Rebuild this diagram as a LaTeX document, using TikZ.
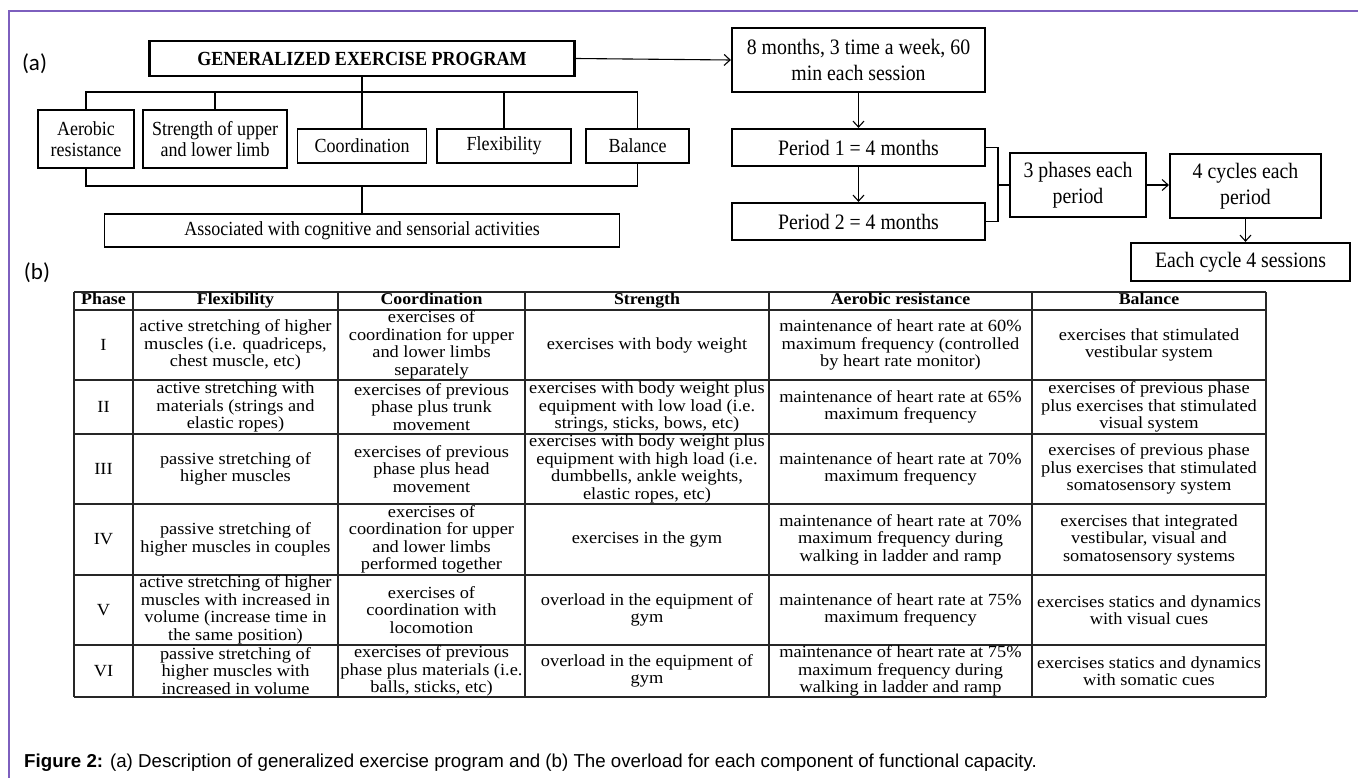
\documentclass[tikz,border=0pt]{standalone}
\usepackage{fontspec}
\setmainfont{Liberation Serif}
\newfontfamily\condfont[FakeStretch=0.9]{Liberation Serif}
\newfontfamily\tabfont[FakeStretch=1.08]{Liberation Serif}
\newfontfamily\capfont{Liberation Sans}
\newfontfamily\labfont{Carlito}
\usetikzlibrary{arrows.meta}
\definecolor{framepurple}{RGB}{125,95,190}
\begin{document}
\begin{tikzpicture}[x=1pt,y=-1pt,
  box/.style={draw,line width=1.2pt,align=center,inner sep=0pt,font=\condfont\fontsize{20}{21}\selectfont},
  tbox/.style={box,line width=2.2pt,font=\condfont\fontsize{22}{26}\selectfont},
  conn/.style={line width=1.1pt},
  arr/.style={conn,-{Straight Barb[length=6pt,width=11pt]}},
  cell/.style={align=center,inner sep=0pt,font=\tabfont\fontsize{17}{17.5}\selectfont},
  head/.style={align=center,inner sep=0pt,text height=12pt,text depth=4pt,font=\tabfont\bfseries\fontsize{16.5}{17.5}\selectfont},
  hrule/.style={line width=2.2pt,black!85},
  vrule/.style={line width=1.4pt,black!85},
  lab/.style={font=\labfont\fontsize{23}{25}\selectfont,inner sep=0pt},
]
\useasboundingbox (0,0) rectangle (1358,778);
% frame
\draw[framepurple,line width=1.6pt] (9,778) -- (9,11) -- (1358,11);

% labels
\node[lab] (la) at (34.5,64) {(a)};
\node[lab] (lb) at (37,273) {(b)};

% (a) left part
\node[box,line width=2.2pt,minimum width=425pt,minimum height=35pt,font=\condfont\bfseries\fontsize{20}{21}\selectfont] (gep) at (362,58.5) {GENERALIZED EXERCISE PROGRAM};
\node[box,minimum width=96pt,minimum height=58pt] (aer) at (86,139) {Aerobic\\resistance};
\node[box,minimum width=144pt,minimum height=58pt] (str) at (215,139) {Strength of upper\\and lower limb};
\node[box,minimum width=129pt,minimum height=34pt] (coo) at (362,146) {Coordination};
\node[box,minimum width=134pt,minimum height=34pt] (fle) at (504,146) {Flexibility};
\node[box,minimum width=103pt,minimum height=34pt] (bal) at (637.5,146) {Balance};
\node[box,minimum width=515pt,minimum height=33pt] (ass) at (362,230.5) {Associated with cognitive and sensorial activities};

\coordinate (tbL) at (86,92);
\coordinate (tbR) at (637.5,92);
\draw[conn] (aer.north) -- (tbL) -- (tbR) -- (bal.north);
\draw[conn] (str.north) -- (str.north |- tbL);
\draw[conn] (fle.north) -- (fle.north |- tbL);
\draw[conn] (gep.south) -- (coo.north);
\coordinate (bbL) at (86,186);
\coordinate (bbR) at (637.5,186);
\draw[conn] (aer.south) -- (bbL) -- (bbR) -- (bal.south);
\draw[conn] (ass.north) -- (ass.north |- bbL);

% (a) right part
\node[tbox,minimum width=253pt,minimum height=64pt] (m8) at (858.5,60) {8 months, 3 time a week, 60\\min each session};
\node[tbox,minimum width=253pt,minimum height=37pt] (p1) at (858.5,147.5) {Period 1 = 4 months};
\node[tbox,minimum width=253pt,minimum height=37pt] (p2) at (858.5,221.5) {Period 2 = 4 months};
\node[tbox,minimum width=136pt,minimum height=64pt] (ph) at (1078,185) {3 phases each\\period};
\node[tbox,minimum width=151pt,minimum height=64pt] (cy) at (1245.5,186) {4 cycles each\\period};
\node[tbox,minimum width=219pt,minimum height=38pt] (ec) at (1240.5,262) {Each cycle 4 sessions};

\draw[arr] (gep.east) -- (m8.west);
\draw[arr] (m8.south) -- (p1.north);
\draw[arr] (p1.south) -- (p2.north);
\coordinate (brT) at (998,147.5);
\coordinate (brB) at (998,221.5);
\draw[conn] (p1.east) -- (brT) -- (brB) -- (p2.east);
\draw[conn] (ph.west) -- (ph.west -| brT);
\draw[arr] (ph.east) -- (ph.east -| cy.west);
\draw[arr] (cy.south) -- (cy.south |- ec.north);

% (b) table grid
\foreach \y in {292,310,380,434,504,575,645,697} \draw[hrule] (74,\y) -- (1266,\y);
\foreach \x in {74,133,338,525,769,1032,1266} \draw[vrule] (\x,292) -- (\x,697);

% header
\node[head] (h1) at (103.5,301) {Phase};
\node[head] (h2) at (235.5,301) {Flexibility};
\node[head] (h3) at (431.5,301) {Coordination};
\node[head] (h4) at (647,301) {Strength};
\node[head] (h5) at (900.5,301) {Aerobic resistance};
\node[head] (h6) at (1149,301) {Balance};

% row I
\node[cell] (a1) at (103.5,345) {I};
\node[cell] (a2) at (235.5,345) {active stretching of higher\\muscles (i.e. quadriceps,\\chest muscle, etc)};
\node[cell] (a3) at (431.5,345) {exercises of\\coordination for upper\\and lower limbs\\separately};
\node[cell] (a4) at (647,345) {exercises with body weight};
\node[cell] (a5) at (900.5,345) {maintenance of heart rate at 60\%\\maximum frequency (controlled\\by heart rate monitor)};
\node[cell] (a6) at (1149,345) {exercises that stimulated\\vestibular system};

% row II
\node[cell] (b1) at (103.5,407) {II};
\node[cell] (b2) at (235.5,407) {active stretching with\\materials (strings and\\elastic ropes)};
\node[cell] (b3) at (431.5,407) {exercises of previous\\phase plus trunk\\movement};
\node[cell] (b4) at (647,407) {exercises with body weight plus\\equipment with low load (i.e.\\strings, sticks, bows, etc)};
\node[cell] (b5) at (900.5,407) {maintenance of heart rate at 65\%\\maximum frequency};
\node[cell] (b6) at (1149,407) {exercises of previous phase\\plus exercises that stimulated\\visual system};

% row III
\node[cell] (c1) at (103.5,469) {III};
\node[cell] (c2) at (235.5,469) {passive stretching of\\higher muscles};
\node[cell] (c3) at (431.5,469) {exercises of previous\\phase plus head\\movement};
\node[cell] (c4) at (647,469) {exercises with body weight plus\\equipment with high load (i.e.\\dumbbells, ankle weights,\\elastic ropes, etc)};
\node[cell] (c5) at (900.5,469) {maintenance of heart rate at 70\%\\maximum frequency};
\node[cell] (c6) at (1149,469) {exercises of previous phase\\plus exercises that stimulated\\somatosensory system};

% row IV
\node[cell] (d1) at (103.5,539.5) {IV};
\node[cell] (d2) at (235.5,539.5) {passive stretching of\\higher muscles in couples};
\node[cell] (d3) at (431.5,539.5) {exercises of\\coordination for upper\\and lower limbs\\performed together};
\node[cell] (d4) at (647,539.5) {exercises in the gym};
\node[cell] (d5) at (900.5,539.5) {maintenance of heart rate at 70\%\\maximum frequency during\\walking in ladder and ramp};
\node[cell] (d6) at (1149,539.5) {exercises that integrated\\vestibular, visual and\\somatosensory systems};

% row V
\node[cell] (e1) at (103.5,610) {V};
\node[cell] (e2) at (235.5,610) {active stretching of higher\\muscles with increased in\\volume (increase time in\\the same position)};
\node[cell] (e3) at (431.5,610) {exercises of\\coordination with\\locomotion};
\node[cell] (e4) at (647,610) {overload in the equipment of\\gym};
\node[cell] (e5) at (900.5,610) {maintenance of heart rate at 75\%\\maximum frequency};
\node[cell] (e6) at (1149,610) {exercises statics and dynamics\\with visual cues};

% row VI
\node[cell] (f1) at (103.5,671) {VI};
\node[cell] (f2) at (235.5,671) {passive stretching of\\higher muscles with\\increased in volume};
\node[cell] (f3) at (431.5,671) {exercises of previous\\phase plus materials (i.e.\\balls, sticks, etc)};
\node[cell] (f4) at (647,671) {overload in the equipment of\\gym};
\node[cell] (f5) at (900.5,671) {maintenance of heart rate at 75\%\\maximum frequency during\\walking in ladder and ramp};
\node[cell] (f6) at (1149,671) {exercises statics and dynamics\\with somatic cues};

% caption
\node[anchor=west,inner sep=0pt,font=\capfont\fontsize{18.7}{21}\selectfont] (cap) at (24,763) {\textbf{Figure 2:} (a) Description of generalized exercise program and (b) The overload for each component of functional capacity.};
\end{tikzpicture}
\end{document}
